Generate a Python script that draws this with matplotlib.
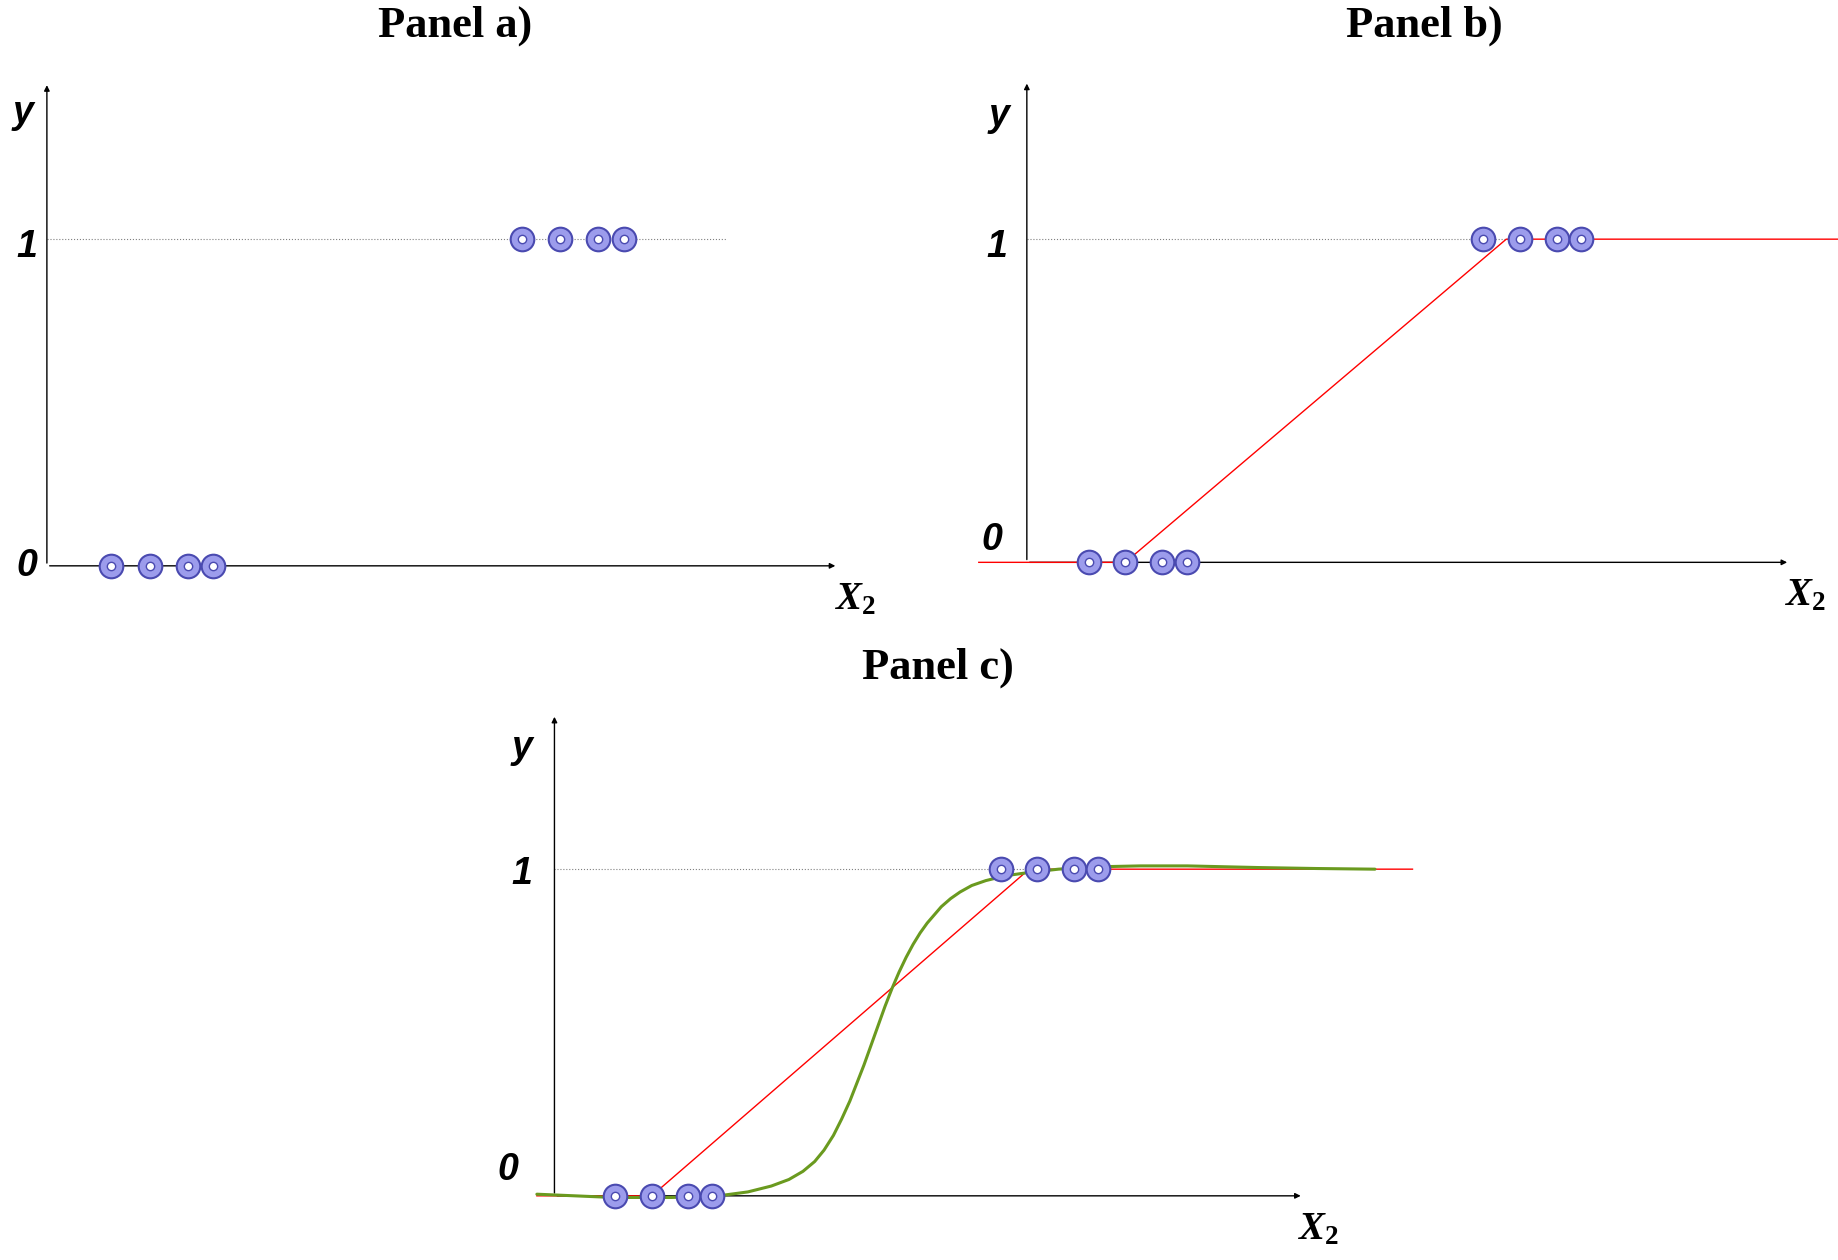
import matplotlib
matplotlib.use("Agg")
import matplotlib.pyplot as plt

plt.rcParams['mathtext.fontset'] = 'custom'
plt.rcParams['mathtext.it'] = 'Liberation Serif:italic:bold'
plt.rcParams['mathtext.rm'] = 'Liberation Serif:bold'

# data (x in arbitrary units from origin, y in 0..1)
a_x0 = [55, 88, 120, 142]
a_x1 = [405, 438, 470, 492]
b_x0 = [53, 84, 115, 137]
b_x1 = [389, 421, 452, 473]
b_line_x = [-41, 84, 409, 692]
b_line_y = [0, 0, 1, 1]
c_x0 = [52, 83, 114, 134]
c_x1 = [381, 412, 443, 464]
c_line_x = [-15, 83, 405, 732]
c_line_y = [0, 0, 1, 1]
c_curve_x = [-15, 50, 100, 140, 165, 185, 200, 212, 222, 230, 238, 245, 252, 258, 264, 270, 276, 282, 288, 294, 300, 306, 312, 318, 324, 330, 338, 346, 356, 368, 385, 405, 430, 460, 500, 540, 600, 650, 700]
c_curve_y = [0.005, -0.005, -0.005, 0.0, 0.012, 0.03, 0.05, 0.075, 0.105, 0.14, 0.185, 0.235, 0.29, 0.345, 0.40, 0.46, 0.52, 0.58, 0.635, 0.685, 0.73, 0.77, 0.805, 0.835, 0.86, 0.885, 0.91, 0.93, 0.95, 0.965, 0.98, 0.99, 1.0, 1.007, 1.01, 1.01, 1.005, 1.002, 1.0]

W, H = 1568, 1080
fig = plt.figure(figsize=(18.38, 12.6), dpi=100)

def make_ax(box, origin, uy):
    l, t, r, b = box
    ox, oy = origin
    ax = fig.add_axes([l / W, 1 - b / H, (r - l) / W, (b - t) / H])
    ax.set_xlim(l - ox, r - ox)
    ax.set_ylim((oy - b) / uy, (oy - t) / uy)
    ax.axis('off')
    return ax

lab = dict(fontfamily='Liberation Sans', fontweight='bold', fontstyle='italic', fontsize=27, ha='center', va='center')

def decorate(ax, xend, ytop, dot_end, ylab_pos, one_pos, zero_pos, x2_pos):
    ax.annotate('', xy=(0, ytop), xytext=(0, 0),
                arrowprops=dict(arrowstyle='-|>', lw=1.0, color='black', mutation_scale=8))
    ax.annotate('', xy=(xend, 0), xytext=(0, 0),
                arrowprops=dict(arrowstyle='-|>', lw=1.0, color='black', mutation_scale=8))
    ax.plot([0, dot_end], [1, 1], ls=':', color='gray', lw=0.8)
    ax.text(*ylab_pos, 'y', **lab)
    ax.text(*one_pos, '1', **lab)
    ax.text(*zero_pos, '0', **lab)
    ax.text(*x2_pos, r'$\mathit{X}_2$', fontsize=28, ha='center', va='center')

def points(ax, xs, y):
    ys = [y] * len(xs)
    ax.plot(xs, ys, 'o', ms=17, mfc='#9c9cec', mec='#4a4ab0', mew=1.5, zorder=5)
    ax.plot(xs, ys, 'o', ms=6, mfc='white', mec='#4a4ab0', mew=1.0, zorder=6)

# Panel a
ax = make_ax((0, 60, 760, 530), (40, 485), 280)
decorate(ax, 675, 1.48, 580, (-20, 1.386), (-17, 0.975), (-17, 0), (690, -0.1))
points(ax, a_x0, 0)
points(ax, a_x1, 1)

# Panel b
ax = make_ax((820, 60, 1568, 530), (876, 482), 277)
decorate(ax, 651, 1.49, 420, (-24, 1.38), (-26, 0.975), (-30, 0.07), (664, -0.1))
ax.plot(b_line_x, b_line_y, color='red', lw=1.0, zorder=4)
points(ax, b_x0, 0)
points(ax, b_x1, 1)

# Panel c
ax = make_ax((420, 600, 1220, 1080), (473, 1025), 280)
decorate(ax, 639, 1.475, 410, (-28, 1.37), (-28, 0.985), (-40, 0.08), (652, -0.1))
ax.plot(c_line_x, c_line_y, color='red', lw=1.0, zorder=4)
ax.plot(c_curve_x, c_curve_y, color='#6a9a1f', lw=2.2, zorder=4, solid_capstyle='round', solid_joinstyle='round')
points(ax, c_x0, 0)
points(ax, c_x1, 1)

tk = dict(fontfamily='Liberation Serif', fontweight='bold', fontsize=32, ha='center', va='center')
fig.text(388 / W, 1 - 22 / H, 'Panel a)', **tk)
fig.text(1215 / W, 1 - 22 / H, 'Panel b)', **tk)
fig.text(800 / W, 1 - 572 / H, 'Panel c)', **tk)

fig.savefig('out.png', dpi=100)
